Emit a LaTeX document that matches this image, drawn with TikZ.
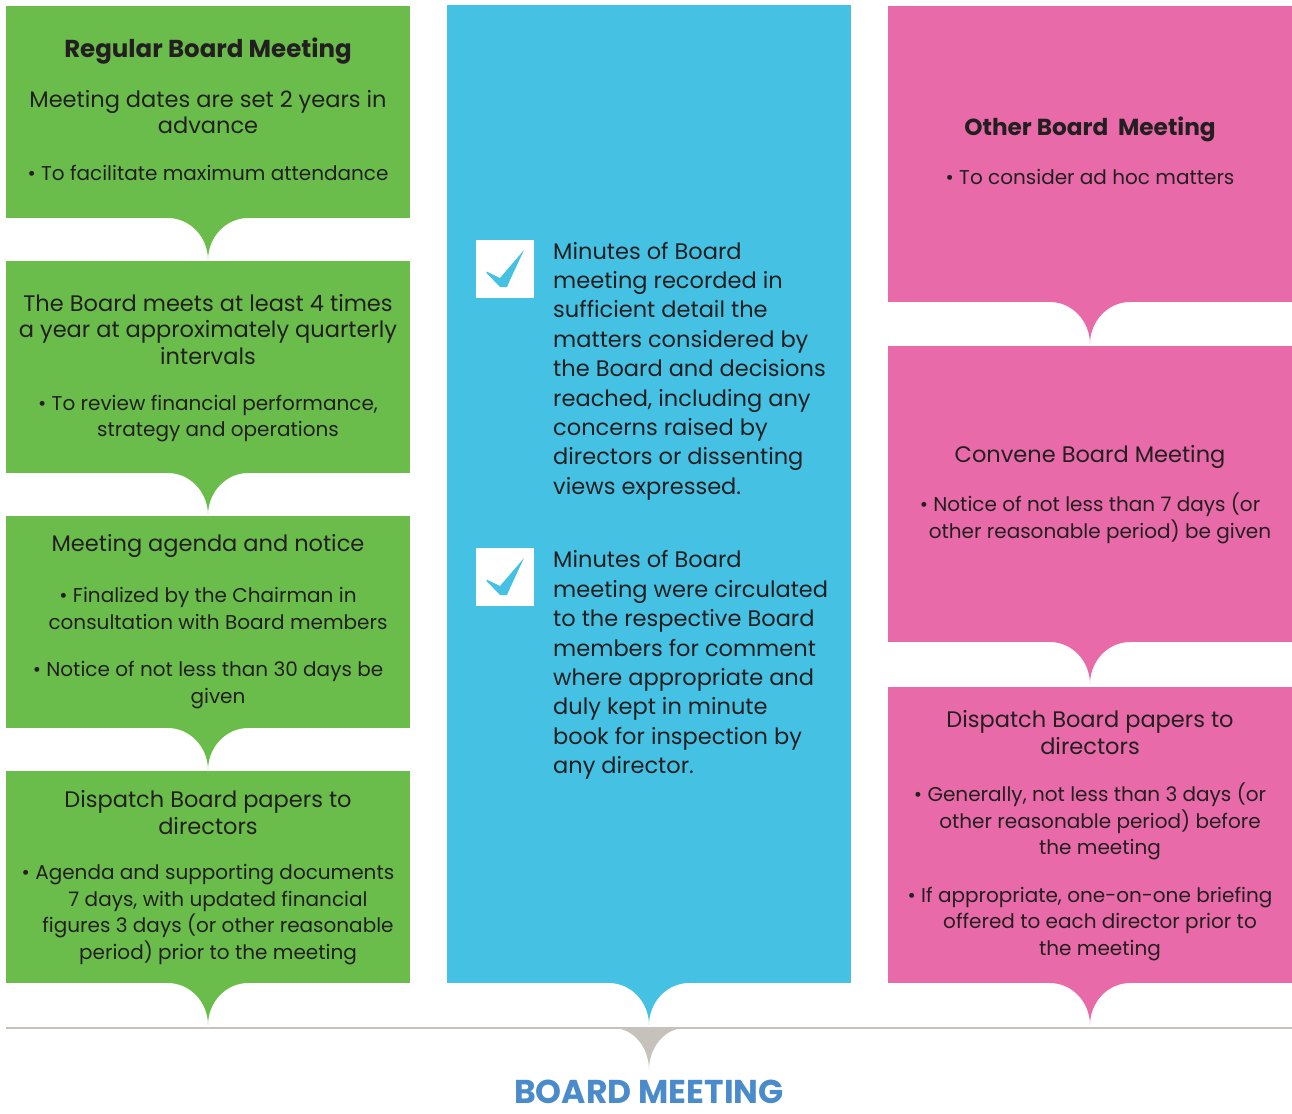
\documentclass[tikz,border=0pt]{standalone}
\usepackage{fontspec}
\setmainfont{Poppins}
\usetikzlibrary{calc}
\definecolor{cgreen}{RGB}{107,189,75}
\definecolor{cblue}{RGB}{69,193,227}
\definecolor{cpink}{RGB}{232,106,168}
\definecolor{cgray}{RGB}{198,193,186}
\definecolor{ctext}{RGB}{35,31,32}
\definecolor{ctitle}{RGB}{74,139,203}
\newcommand{\tabshape}[2]{%
  \fill[#1] ([xshift=-40pt,yshift=1pt]#2.south) -- ([xshift=-40pt]#2.south)
    .. controls +(22pt,0pt) and +(0pt,23pt) .. ([yshift=-42pt]#2.south)
    .. controls +(0pt,23pt) and +(-22pt,0pt) .. ([xshift=40pt]#2.south)
    -- ([xshift=40pt,yshift=1pt]#2.south) -- cycle;}
\newcommand{\hang}{\hspace*{20pt}}
\tikzset{
  box/.style={anchor=north west, minimum width=404pt, inner sep=0pt, outer sep=0pt, draw=none},
  head/.style={inner sep=0pt, align=center, text=ctext, font=\fontsize{22.5}{26.5}\selectfont},
  body/.style={inner sep=0pt, align=center, text=ctext, font=\fontsize{20}{26.7}\selectfont},
  ttl/.style={inner sep=0pt, align=center, text=ctext, font=\fontsize{24.5}{26.5}\selectfont\bfseries},
  bluetxt/.style={inner sep=0pt, align=left, anchor=west, text=ctext, font=\fontsize{22.5}{29.4}\selectfont},
  chk/.style={fill=white, minimum size=58pt, inner sep=0pt, anchor=north west}
}
\begin{document}
\begin{tikzpicture}[x=1pt,y=-1pt]
\useasboundingbox (0,0) rectangle (1292,1113);
% green column
\node[box, fill=cgreen, minimum height=212pt] (g1) at (6,6) {};
\node[box, fill=cgreen, minimum height=212pt] (g2) at (6,261) {};
\node[box, fill=cgreen, minimum height=212pt] (g3) at (6,516) {};
\node[box, fill=cgreen, minimum height=212pt] (g4) at (6,771) {};
\tabshape{cgreen}{g1}
\tabshape{cgreen}{g2}
\tabshape{cgreen}{g3}
\tabshape{cgreen}{g4}
% blue column
\node[box, fill=cblue, minimum height=978pt] (b1) at (447,5) {};
\tabshape{cblue}{b1}
% pink column
\node[box, fill=cpink, minimum height=296pt] (p1) at (888,6) {};
\node[box, fill=cpink, minimum height=296pt] (p2) at (888,346) {};
\node[box, fill=cpink, minimum height=296pt] (p3) at (888,687) {};
\tabshape{cpink}{p1}
\tabshape{cpink}{p2}
\tabshape{cpink}{p3}
% bottom line and tab
\coordinate (lineL) at (6,1028);
\coordinate (lineR) at (1292,1028);
\coordinate (mid) at (649,1028);
\draw[cgray, line width=2.5pt] (lineL) -- (lineR);
\fill[cgray] ([xshift=-36pt]mid) .. controls +(20pt,0pt) and +(0pt,23pt) .. ([yshift=-42pt]mid)
    .. controls +(0pt,23pt) and +(-20pt,0pt) .. ([xshift=36pt]mid) -- cycle;
\node[inner sep=0pt, text=ctitle, font=\fontsize{33}{36}\selectfont\bfseries] (bm) at (649,1092) {BOARD MEETING};
% green texts
\node[ttl] (g1t) at (208,51) {Regular Board Meeting};
\node[head] (g1a) at (208,112) {Meeting dates are set 2 years in\\advance};
\node[body] (g1b) at (208,173) {• To facilitate maximum attendance};
\node[head] (g2a) at (208,329.5) {The Board meets at least 4 times\\a year at approximately quarterly\\intervals};
\node[body] (g2b) at (208,418.5) {• To review financial performance,\\\hang strategy and operations};
\node[head] (g3a) at (208,546) {Meeting agenda and notice};
\node[body] (g3b) at (208,608.5) {• Finalized by the Chairman in\\\hang consultation with Board members};
\node[body] (g3c) at (208,685) {• Notice of not less than 30 days be\\\hang given};
\node[head] (g4a) at (208,812.5) {Dispatch Board papers to\\directors};
\node[body] (g4b) at (208,914.5) {• Agenda and supporting documents\\\hang 7 days, with updated financial\\\hang figures 3 days (or other reasonable\\\hang period) prior to the meeting};
% blue texts
\node[chk] (c1) at (476,240) {};
\node[chk] (c2) at (476,548) {};
\foreach \c in {c1,c2}{
  \fill[cblue] ([xshift=10.5pt,yshift=-31.5pt]\c.north west) -- ([xshift=24pt,yshift=-38pt]\c.north west)
    -- ([xshift=48pt,yshift=-10pt]\c.north west) -- ([xshift=34pt,yshift=-40pt]\c.north west)
    -- ([xshift=31pt,yshift=-47pt]\c.north west) -- ([xshift=24pt,yshift=-47pt]\c.north west)
    -- ([xshift=10.5pt,yshift=-33pt]\c.north west) -- cycle;
}
\node[bluetxt] (bt1) at (553,371) {Minutes of Board\\meeting recorded in\\sufficient detail the\\matters considered by\\the Board and decisions\\reached, including any\\concerns raised by\\directors or dissenting\\views expressed.};
\node[bluetxt] (bt2) at (553,665) {Minutes of Board\\meeting were circulated\\to the respective Board\\members for comment\\where appropriate and\\duly kept in minute\\book for inspection by\\any director.};
% pink texts
\node[ttl, font=\fontsize{23.2}{26.5}\selectfont\bfseries] (p1t) at (1090,129) {Other Board\ \ Meeting};
\node[body] (p1a) at (1090,177) {• To consider ad hoc matters};
\node[head] (p2a) at (1090,457) {Convene Board Meeting};
\node[body] (p2b) at (1090,518.5) {• Notice of not less than 7 days (or\\\hang other reasonable period) be given};
\node[head] (p3a) at (1090,732.5) {Dispatch Board papers to\\directors};
\node[body] (p3b) at (1090,821.5) {• Generally, not less than 3 days (or\\\hang other reasonable period) before\\\hang the meeting};
\node[body] (p3c) at (1090,924) {• If appropriate, one-on-one briefing\\\hang offered to each director prior to\\\hang the meeting};
\end{tikzpicture}
\end{document}
